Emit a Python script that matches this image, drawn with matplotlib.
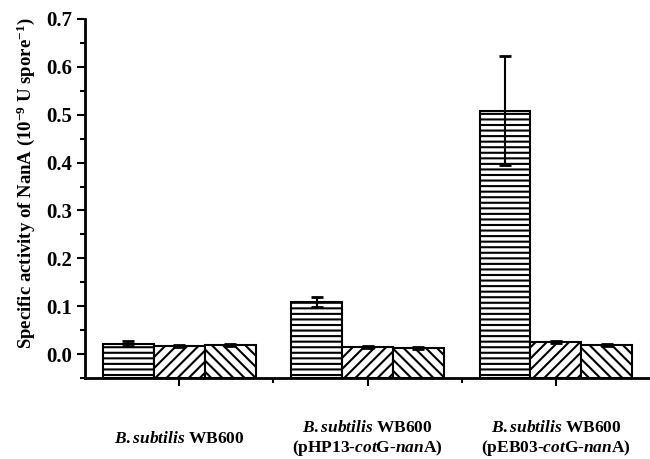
import numpy as np
import matplotlib
matplotlib.use("Agg")
import matplotlib.pyplot as plt

plt.rcParams['font.family'] = 'Liberation Serif'
plt.rcParams['font.weight'] = 'bold'
plt.rcParams['mathtext.fontset'] = 'custom'
plt.rcParams['mathtext.rm'] = 'Liberation Serif:bold'
plt.rcParams['mathtext.it'] = 'Liberation Serif:italic:bold'
plt.rcParams['mathtext.bf'] = 'Liberation Serif:bold'
plt.rcParams['hatch.linewidth'] = 1.5

# data
group_labels = [r'$B.subtilis$ WB600',
                '$B.subtilis$ WB600\n(pHP13-$cot$G-$nan$A)',
                '$B.subtilis$ WB600\n(pEB03-$cot$G-$nan$A)']
series_a = [0.022, 0.109, 0.508]
err_a = [0.005, 0.010, 0.114]
series_b = [0.017, 0.015, 0.025]
err_b = [0.002, 0.002, 0.002]
series_c = [0.019, 0.014, 0.019]
err_c = [0.002, 0.002, 0.002]

hatches = ['---', '///', '\\\\\\']
ymin = -0.05

fig = plt.figure(figsize=(6.5, 4.59), dpi=100)
ax = fig.add_axes([0.131, 0.176, 0.869, 0.783])

x = np.arange(1, len(group_labels) + 1)
w = 0.27
for i, (vals, errs) in enumerate([(series_a, err_a), (series_b, err_b), (series_c, err_c)]):
    pos = x + (i - 1) * w
    vals = np.array(vals)
    ax.bar(pos, vals - ymin, bottom=ymin, width=w, color='white',
           edgecolor='black', linewidth=1.5, hatch=hatches[i])
    ax.errorbar(pos, vals, yerr=errs, fmt='none', ecolor='black',
                elinewidth=1.5, capsize=4, capthick=2)

ax.set_xlim(0.5, 3.5)
ax.set_ylim(ymin, 0.7)
ax.set_yticks(np.arange(0, 0.71, 0.1))
ax.set_yticks(np.arange(-0.05, 0.7, 0.1), minor=True)
ax.set_xticks(x)
ax.set_xticks([1.5, 2.5], minor=True)
ax.set_xticklabels(group_labels, fontsize=12.5, fontweight='bold')
for lab in ax.get_xticklabels():
    lab.set_va('center')
    lab.set_linespacing(1.15)
ax.tick_params(axis='x', which='major', pad=38)

ax.yaxis.set_major_formatter(matplotlib.ticker.FormatStrFormatter('%.1f'))
ax.tick_params(axis='y', labelsize=15)
ax.tick_params(which='major', direction='out', length=6, width=1.5)
ax.tick_params(which='minor', direction='out', length=3.5, width=1.5)

ax.spines['top'].set_visible(False)
ax.spines['right'].set_visible(False)
ax.spines['left'].set_linewidth(2)
ax.spines['bottom'].set_linewidth(2)

ax.set_ylabel('Specific activity of NanA (10$^{-9}$ U spore$^{-1}$)',
              fontsize=13.5, fontweight='bold')
ax.yaxis.set_label_coords(-0.085, 0.543)

fig.savefig('out.png', dpi=100)
